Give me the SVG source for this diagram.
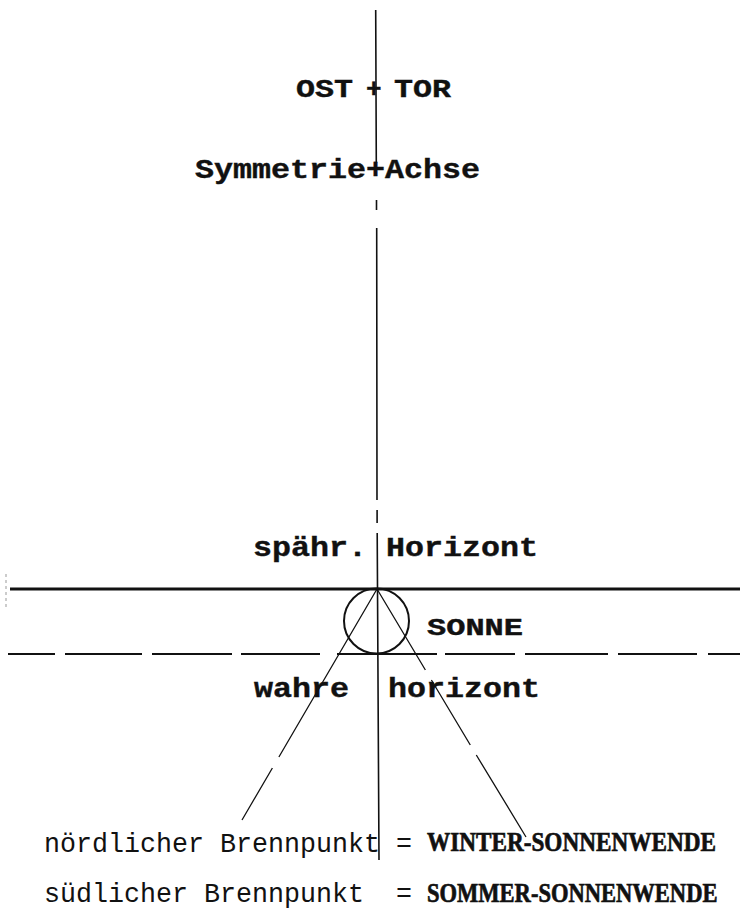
<svg xmlns="http://www.w3.org/2000/svg" width="742" height="922" viewBox="0 0 742 922">
<style>
.tb{font-family:"Liberation Mono","DejaVu Sans Mono",monospace;font-weight:bold;fill:#111;stroke:#111;stroke-width:0.4}
.tr{font-family:"Liberation Mono","DejaVu Sans Mono",monospace;font-weight:normal;fill:#111}
.ts{font-family:"Liberation Serif","DejaVu Serif",serif;font-weight:bold;font-size:27px;fill:#111;stroke:#111;stroke-width:0.7}
.ax{stroke:#111;stroke-width:1.6;fill:none}
.thin{stroke:#111;stroke-width:1.3;fill:none}
</style>
<rect width="742" height="922" fill="#fff"/>
<g id="connectors">
<path class="ax" d="M375.7 10 L376.3 163 M376.5 200 L376.5 210 M376.7 228 L377 500 M377.1 510 L377.1 523 M377.2 533 L379 860"/>
<line x1="10" y1="589" x2="740" y2="589" stroke="#111" stroke-width="3"/>
<line x1="6" y1="574" x2="6" y2="607" stroke="#999" stroke-width="1" stroke-dasharray="3,3"/>
<path stroke="#111" stroke-width="2" fill="none" d="M8 654 H55 M65 654 H142 M152 654 H232 M241 654 H320 M337 654 H437 M445 654 H515 M525 654 H608 M618 654 H697 M708 654 H740"/>
<path class="thin" d="M377 589 L278.9 757 M272.4 768 L242 820"/>
<path class="thin" d="M377 589 L425.4 670 M431.4 680 L470.3 745 M476.3 755 L526 837"/>
</g>
<g id="sonne">
<circle cx="376.5" cy="621" r="32.5" stroke="#111" stroke-width="2" fill="none"/>
<text class="tb" x="427" y="635" font-size="23" textLength="96" lengthAdjust="spacingAndGlyphs">SONNE</text>
</g>
<g id="osttor">
<text class="tb" y="97" font-size="26"><tspan x="296" textLength="57" lengthAdjust="spacingAndGlyphs">OST</tspan> <tspan x="366">+</tspan> <tspan x="394" textLength="57" lengthAdjust="spacingAndGlyphs">TOR</tspan></text>
</g>
<g id="symmetrie">
<text class="tb" x="195" y="178" font-size="28" textLength="285" lengthAdjust="spacingAndGlyphs">Symmetrie+Achse</text>
</g>
<g id="sphaer">
<text class="tb" x="253" y="556" font-size="27" textLength="285" lengthAdjust="spacingAndGlyphs">spähr. Horizont</text>
</g>
<g id="wahre">
<text class="tb" y="697" font-size="27"><tspan x="254" textLength="95" lengthAdjust="spacingAndGlyphs">wahre</tspan> <tspan x="388" textLength="152" lengthAdjust="spacingAndGlyphs">horizont</tspan></text>
</g>
<g id="legend">
<text class="tr" x="44" y="852" font-size="28" textLength="368" lengthAdjust="spacingAndGlyphs" xml:space="preserve">nördlicher Brennpunkt =</text>
<text class="ts" transform="translate(427 851) scale(0.86 1)">WINTER-SONNENWENDE</text>
<text class="tr" x="44" y="902" font-size="28" textLength="368" lengthAdjust="spacingAndGlyphs" xml:space="preserve">südlicher Brennpunkt  =</text>
<text class="ts" transform="translate(427 902) scale(0.835 1)">SOMMER-SONNENWENDE</text>
</g>
</svg>
